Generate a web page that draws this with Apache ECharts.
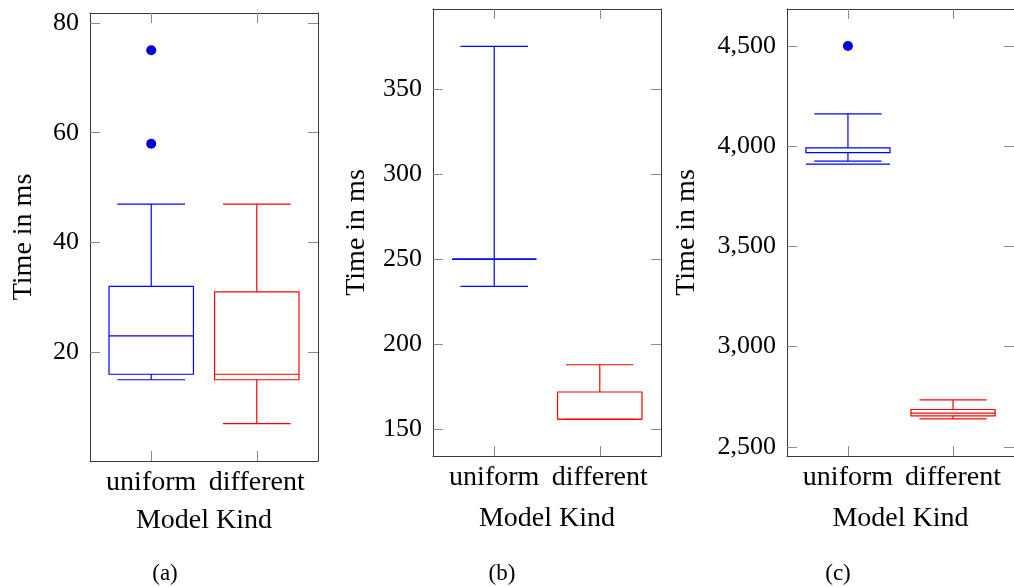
<!DOCTYPE html>
<html>
<head>
<meta charset="utf-8">
<script src="https://cdn.jsdelivr.net/npm/echarts@6/dist/echarts.min.js"></script>
<style>
html,body{margin:0;padding:0;background:#fff;}
#c{width:1014px;height:587px;}
</style>
</head>
<body>
<div id="c"></div>
<script>
// ---- data ----
const categories = ['uniform', 'different'];
// [lower whisker, lower quartile, median, upper quartile, upper whisker]
const aUniform = [15, 16, 23, 32, 47];
const aDifferent = [7, 15, 16, 31, 47];
const aOutliers = [75, 58];
const bUniform = [234, 250, 250, 250, 375];
const bDifferent = [156, 156, 156, 172, 188];
const bOutliers = [];
const cUniform = [3926, 3968, 3911, 3992, 4162];
const cDifferent = [2639, 2654, 2668, 2686, 2734];
const cOutliers = [4500];
const aTicks = [20, 40, 60, 80];
const bTicks = [150, 200, 250, 300, 350];
const cTicks = [2500, 3000, 3500, 4000, 4500];
const yTitle = 'Time in ms';
const xTitle = 'Model Kind';
const captions = ['(a)', '(b)', '(c)'];

const FONT = 'Liberation Serif';
const FS = 26, FST = 28;
const BLUE = '#0000ff', RED = '#ff0000', DOT = '#0000dd';
const FRAME = '#3a3a3a', TICK = '#8a8a8a';

const panels = [
  { grid: { left: 90, top: 13, width: 228, height: 448 }, y: [0.2, 81.8], ticks: aTicks, u: aUniform, d: aDifferent, o: aOutliers, nameGap: 52, xGap: 46, cap: 160 },
  { grid: { left: 433, top: 9, width: 228, height: 447 }, y: [134.4, 397], ticks: bTicks, u: bUniform, d: bDifferent, o: bOutliers, nameGap: 62, xGap: 49, cap: 497 },
  { grid: { left: 787, top: 9, width: 228, height: 447 }, y: [2454, 4685], ticks: cTicks, u: cUniform, d: cDifferent, o: cOutliers, nameGap: 86, xGap: 49, cap: 833 }
];

function fmt(v) { return Number(v).toLocaleString('en-US'); }

function renderBox(params, api) {
  const x = api.value(0);
  const lo = api.value(1), q1 = api.value(2), med = api.value(3), q3 = api.value(4), hi = api.value(5);
  const unit = api.size([1, 0])[0];
  const bw = unit * 0.8 / 2, cw = unit * 0.64 / 2;
  const cx = api.coord([x, med])[0];
  const Y = v => api.coord([x, v])[1];
  const color = api.visual('color');
  const st = { stroke: color, lineWidth: 1.2, fill: null };
  const top = Math.max(q1, q3), bot = Math.min(q1, q3);
  const ch = [
    { type: 'rect', shape: { x: cx - bw, y: Y(top), width: 2 * bw, height: Y(bot) - Y(top) }, style: { stroke: color, lineWidth: 1.2, fill: 'rgba(0,0,0,0)' } },
    { type: 'line', shape: { x1: cx - bw, y1: Y(med), x2: cx + bw, y2: Y(med) }, style: st },
    { type: 'line', shape: { x1: cx, y1: Y(top), x2: cx, y2: Y(hi) }, style: st },
    { type: 'line', shape: { x1: cx, y1: Y(bot), x2: cx, y2: Y(lo) }, style: st },
    { type: 'line', shape: { x1: cx - cw, y1: Y(hi), x2: cx + cw, y2: Y(hi) }, style: st },
    { type: 'line', shape: { x1: cx - cw, y1: Y(lo), x2: cx + cw, y2: Y(lo) }, style: st }
  ];
  return { type: 'group', children: ch };
}

const option = { animation: false, backgroundColor: '#fff', grid: [], xAxis: [], yAxis: [], series: [], title: [] };

panels.forEach((p, i) => {
  option.grid.push(Object.assign({ containLabel: false }, p.grid));
  const xBase = {
    type: 'value', gridIndex: i, min: 0.42, max: 2.58,
    splitLine: { show: false },
    axisLine: { show: true, lineStyle: { color: FRAME, width: 1 } },
    axisTick: { show: true, inside: true, length: 10, customValues: [1, 2], lineStyle: { color: TICK, width: 1 } }
  };
  option.xAxis.push(Object.assign({}, xBase, {
    position: 'bottom',
    axisLabel: { show: true, customValues: [1, 2], formatter: v => categories[Math.round(v) - 1] || '', fontFamily: FONT, fontSize: FST, color: '#000', margin: 8 },
    name: xTitle, nameLocation: 'middle', nameGap: p.xGap,
    nameTextStyle: { fontFamily: FONT, fontSize: FST, color: '#000' }
  }));
  option.xAxis.push(Object.assign({}, xBase, { position: 'top', axisLabel: { show: false } }));
  const yBase = {
    type: 'value', gridIndex: i, min: p.y[0], max: p.y[1],
    splitLine: { show: false },
    axisLine: { show: true, lineStyle: { color: FRAME, width: 1 } },
    axisTick: { show: true, inside: true, length: 10, customValues: p.ticks, lineStyle: { color: TICK, width: 1 } }
  };
  option.yAxis.push(Object.assign({}, yBase, {
    position: 'left',
    axisLabel: { show: true, customValues: p.ticks, formatter: fmt, fontFamily: FONT, fontSize: FS, color: '#000', margin: 11 },
    name: yTitle, nameLocation: 'middle', nameRotate: 90, nameGap: p.nameGap,
    nameTextStyle: { fontFamily: FONT, fontSize: FST, color: '#000' }
  }));
  option.yAxis.push(Object.assign({}, yBase, { position: 'right', axisLabel: { show: false } }));

  const xi = i * 2, yi = i * 2;
  option.series.push({
    type: 'custom', xAxisIndex: xi, yAxisIndex: yi, renderItem: renderBox,
    itemStyle: { color: BLUE }, data: [[1].concat(p.u)], encode: { x: 0, y: [1, 2, 3, 4, 5] }, clip: false
  });
  option.series.push({
    type: 'custom', xAxisIndex: xi, yAxisIndex: yi, renderItem: renderBox,
    itemStyle: { color: RED }, data: [[2].concat(p.d)], encode: { x: 0, y: [1, 2, 3, 4, 5] }, clip: false
  });
  option.series.push({
    type: 'scatter', xAxisIndex: xi, yAxisIndex: yi, symbol: 'circle', symbolSize: 10,
    itemStyle: { color: DOT, opacity: 1 }, data: p.o.map(v => [1, v])
  });
  option.title.push({
    text: captions[i], left: p.cap, top: 557, textAlign: 'center',
    textStyle: { fontFamily: FONT, fontSize: 23, fontWeight: 'normal', color: '#000' }
  });
});

const chart = echarts.init(document.getElementById('c'), null, { renderer: 'canvas' });
chart.setOption(option);
</script>
</body>
</html>
